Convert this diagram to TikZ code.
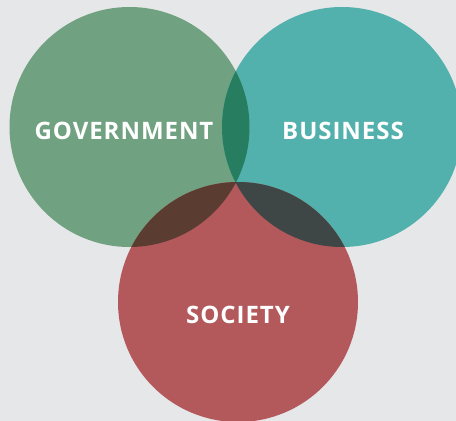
\documentclass[tikz,border=0pt]{standalone}
\usepackage{fontspec}
\newfontfamily\vennfont{Open Sans}[LetterSpace=4]
\definecolor{govgreen}{HTML}{70A180}
\definecolor{busteal}{HTML}{52B0AD}
\definecolor{socred}{HTML}{B3595C}
\definecolor{gbmix}{HTML}{277D60}
\definecolor{gsmix}{HTML}{5A3C31}
\definecolor{bsmix}{HTML}{3E4646}
\definecolor{backgray}{HTML}{E6E7E8}

\begin{document}
\begin{tikzpicture}[x=1pt,y=-1pt]
\tikzset{vennlabel/.style={text=white,inner sep=0pt,font=\vennfont\bfseries\fontsize{24}{28}\selectfont}}
\fill [backgray] (0,0) rectangle (456,421);
\useasboundingbox (0,0) rectangle (456,421);
\coordinate (gov) at (129.5,127);
\coordinate (bus) at (342,127);
\coordinate (soc) at (238,302);
\fill [govgreen] (gov) circle (120pt);
\fill [busteal] (bus) circle (120pt);
\fill [socred] (soc) circle (120pt);
\begin{scope}
\clip (gov) circle (120pt);
\fill [gbmix] (bus) circle (120pt);
\fill [gsmix] (soc) circle (120pt);
\end{scope}
\begin{scope}
\clip (bus) circle (120pt);
\fill [bsmix] (soc) circle (120pt);
\end{scope}
\node [vennlabel] (govlabel) at (124,131) {GOVERNMENT};
\node [vennlabel] (buslabel) at (343,131) {BUSINESS};
\node [vennlabel] (soclabel) at (238,315) {SOCIETY};
\end{tikzpicture}
\end{document}
